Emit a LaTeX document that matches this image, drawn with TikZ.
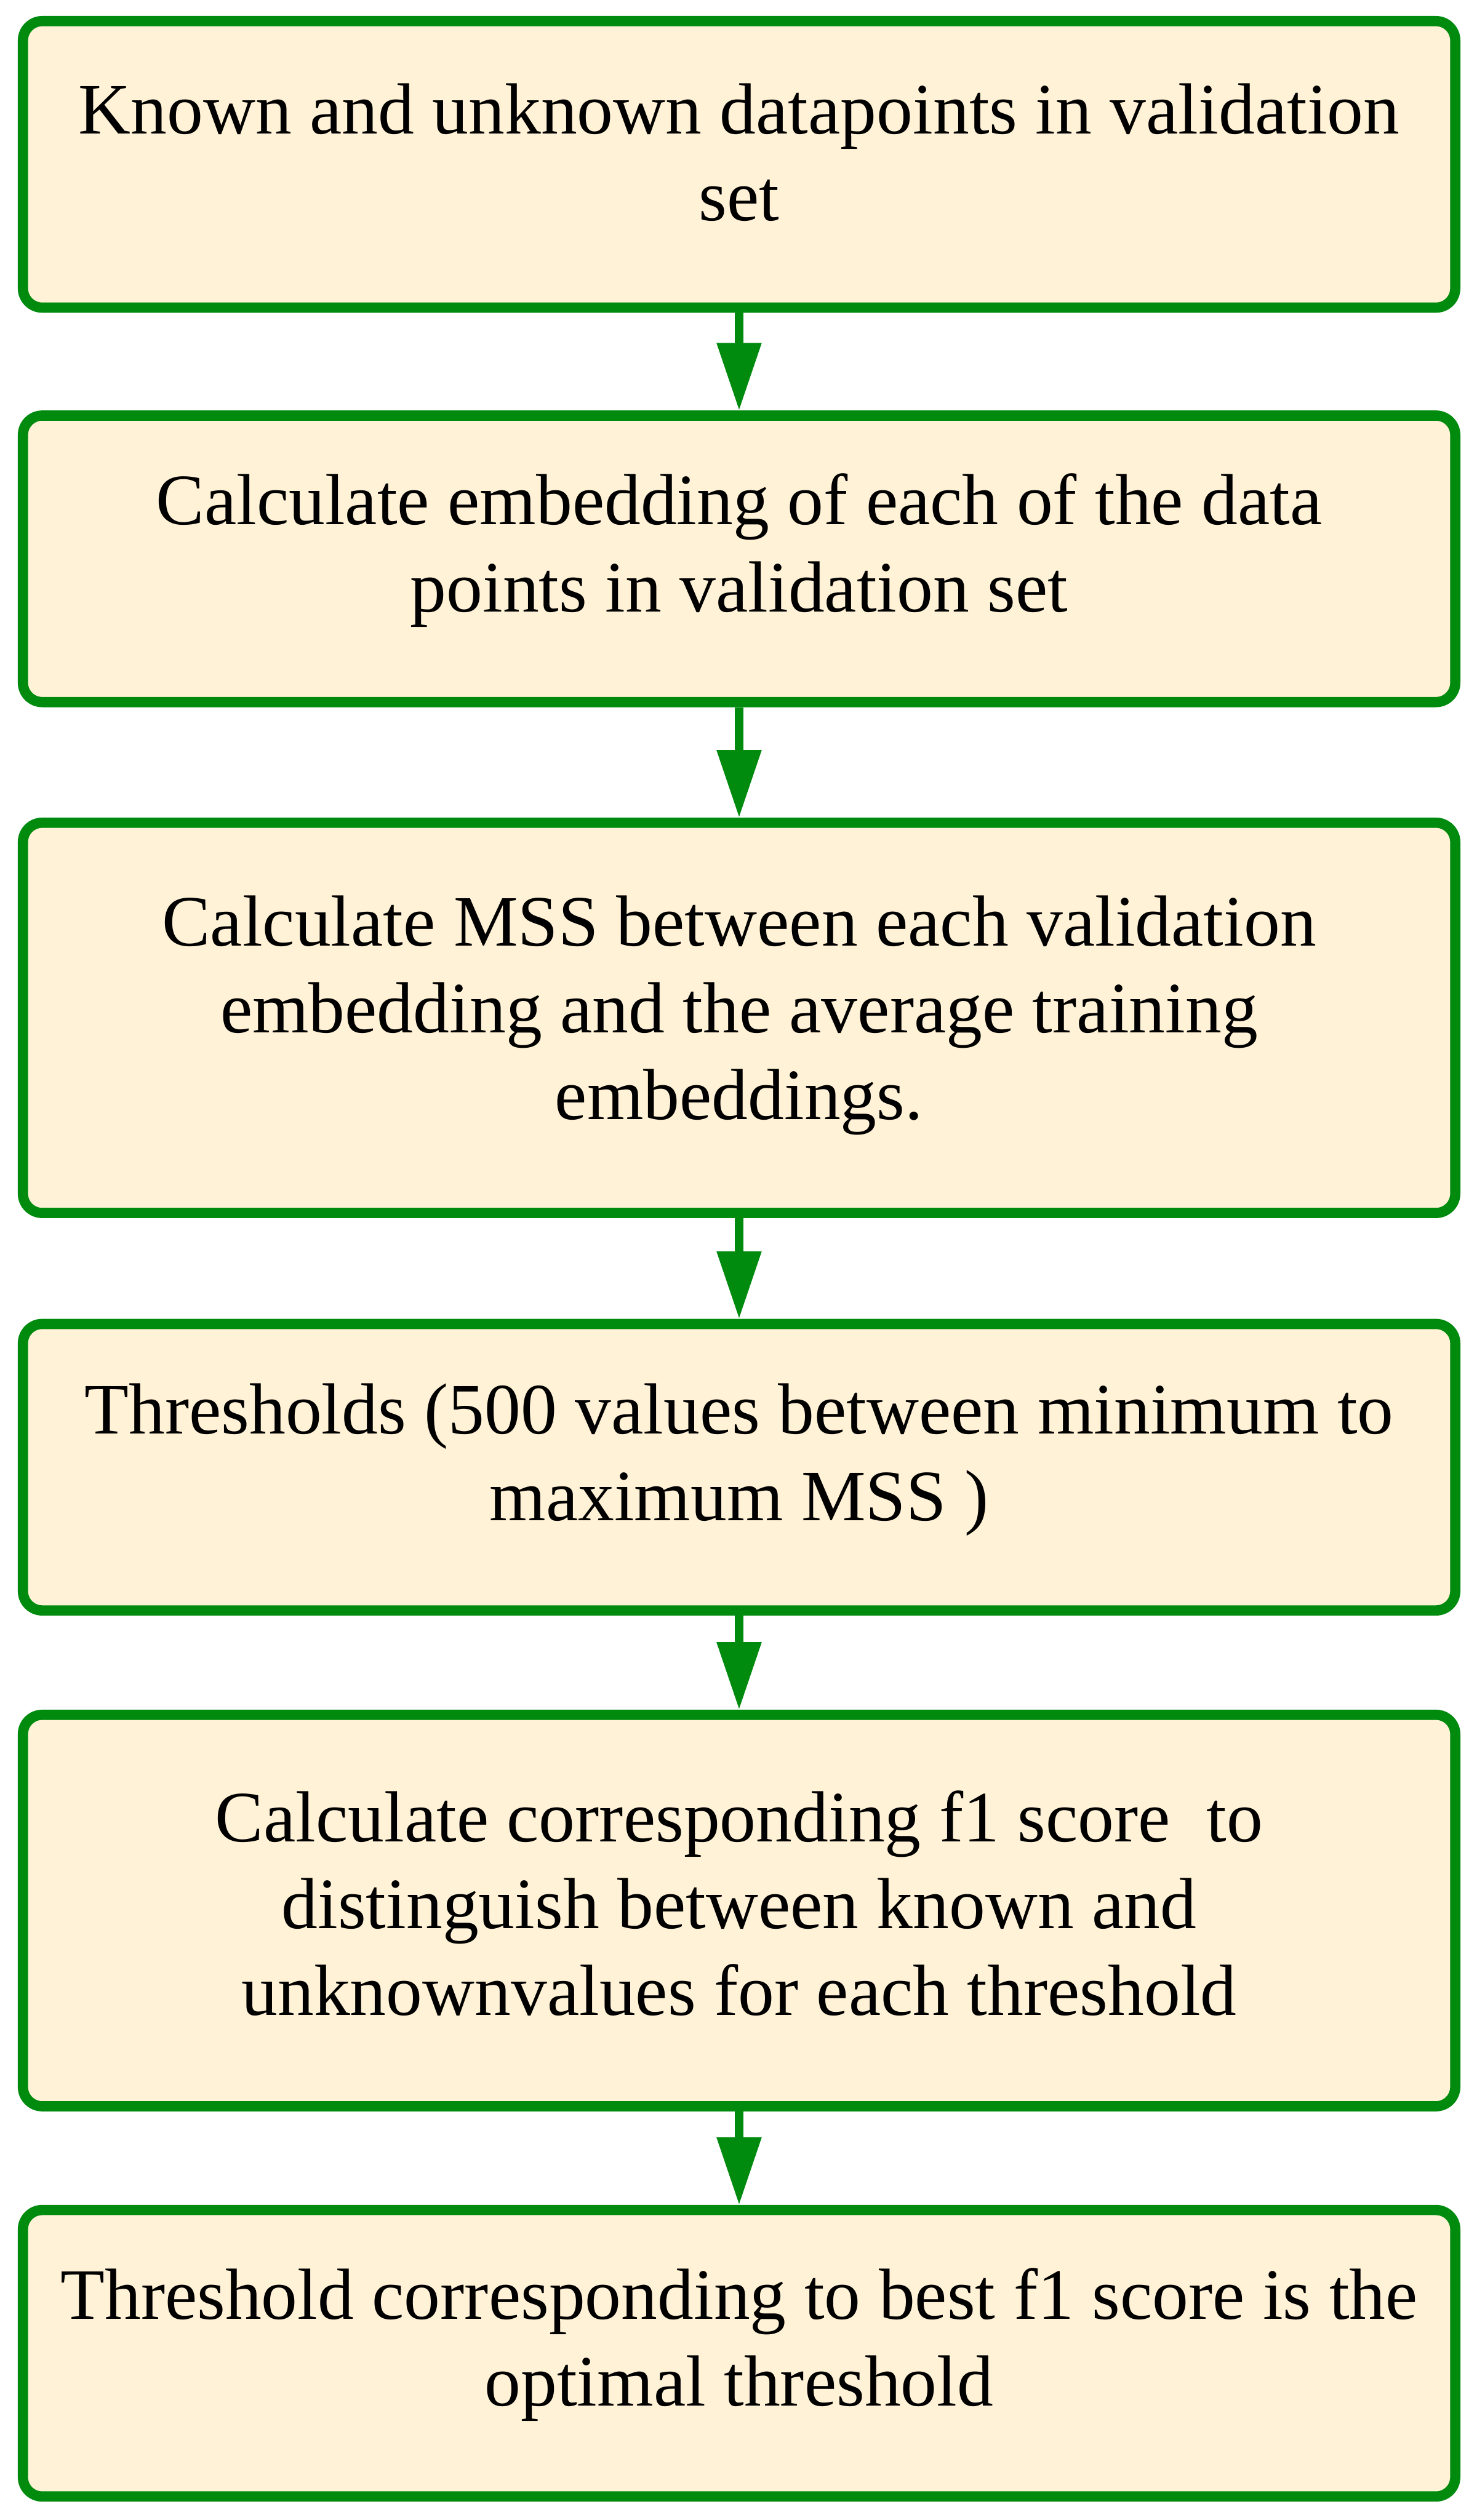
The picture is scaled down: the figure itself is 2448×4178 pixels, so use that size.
\documentclass[tikz,border=0pt]{standalone}
\usepackage{fontspec}
\setmainfont{Liberation Serif}
\usetikzlibrary{arrows.meta}
\definecolor{boxgreen}{RGB}{0,138,14}
\definecolor{boxfill}{RGB}{255,242,214}
\begin{document}
\begin{tikzpicture}[x=0.25pt,y=-0.25pt,
  stepbox/.style={draw=boxgreen, fill=boxfill, line width=4.25pt, rounded corners=8pt,
    minimum width=593.5pt, inner sep=0pt},
  steptext/.style={align=center, inner sep=0pt, text=black,
    font=\fontsize{30}{36}\selectfont},
  flow/.style={draw=boxgreen, line width=3.5pt,
    -{Triangle[width=17.75pt,length=28pt]}}]
\useasboundingbox (0,0) rectangle (2448,4178);
\node[stepbox, minimum height=118.75pt,
  label={[steptext, yshift=5pt]center:Known and unknown datapoints in validation\\set}] (b1) at (1225,272.5) {};
\node[stepbox, minimum height=118.75pt,
  label={[steptext, yshift=3.5pt]center:Calculate embedding of each of the data\\points in validation set}] (b2) at (1225,926.5) {};
\node[stepbox, minimum height=161.75pt,
  label={[steptext, yshift=1pt]center:Calculate MSS between each validation\\embedding and the average training\\embeddings.}] (b3) at (1225,1687.5) {};
\node[stepbox, minimum height=118.75pt,
  label={[steptext, yshift=3pt]center:Thresholds (500 values between minimum to\\maximum MSS )}] (b4) at (1225,2432.5) {};
\node[stepbox, minimum height=162.25pt,
  label={[steptext, yshift=3pt]center:Calculate corresponding f1 score~ to\\distinguish between known and\\unknownvalues for each threshold}] (b5) at (1225,3167.5) {};
\node[stepbox, minimum height=118.75pt,
  label={[steptext, yshift=3.5pt]center:Threshold corresponding to best f1 score is the\\optimal threshold}] (b6) at (1225,3901.5) {};
\draw[flow] (b1.south) -- (b2.north);
\draw[flow] (b2.south) -- (b3.north);
\draw[flow] (b3.south) -- (b4.north);
\draw[flow] (b4.south) -- (b5.north);
\draw[flow] (b5.south) -- (b6.north);
\end{tikzpicture}
\end{document}
